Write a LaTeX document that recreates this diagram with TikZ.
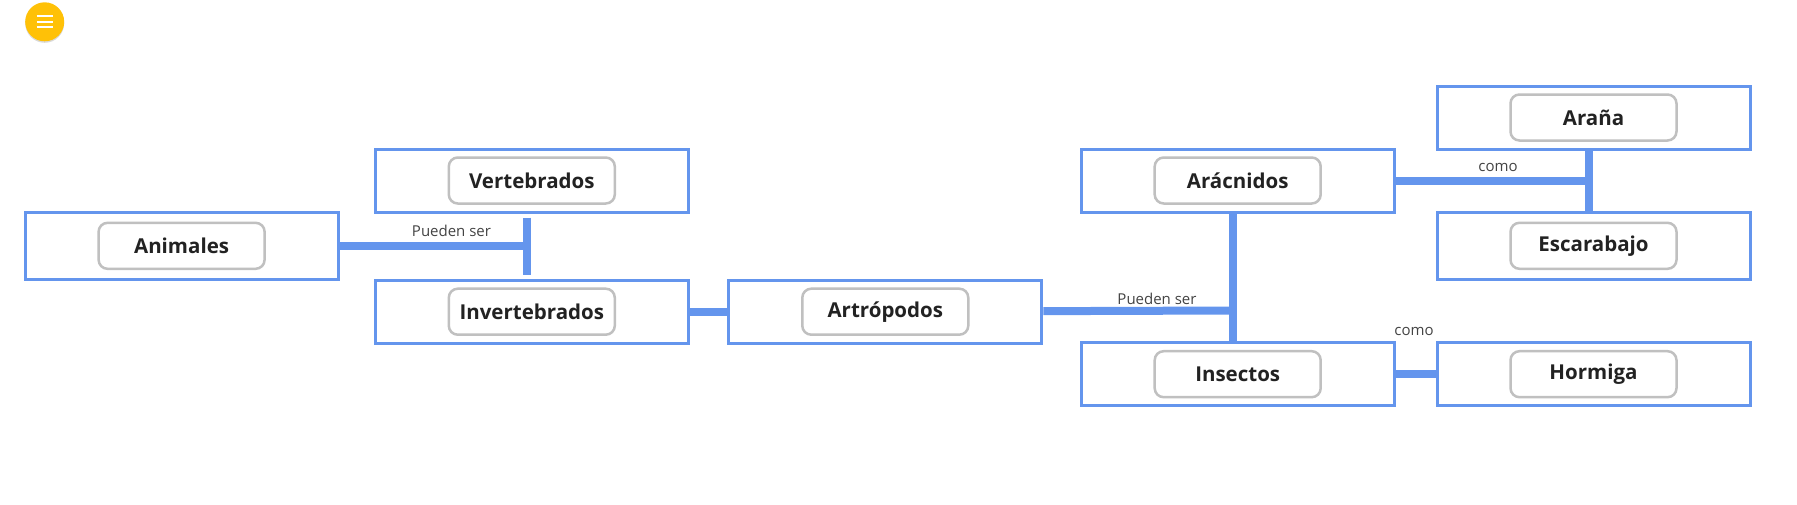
\documentclass[tikz,border=0pt]{standalone}
\usepackage{fontspec}
\setmainfont{Open Sans}
\usepackage{tikz}
\usetikzlibrary{shadows}

\definecolor{boxblue}{RGB}{100,149,237}
\definecolor{taggrey}{RGB}{192,192,192}
\definecolor{txtdark}{RGB}{34,34,34}
\definecolor{menuyellow}{RGB}{255,193,7}

\tikzset{
	concept/.style={shape=rectangle,draw=boxblue,line width=3pt,fill=white,minimum width=313pt,minimum height=63pt},
	tall/.style={minimum height=67pt},
	tag/.style={shape=rectangle,rounded corners=9pt,draw=taggrey,line width=2.5pt,fill=white,minimum width=166pt,minimum height=46pt,font=\bfseries\fontsize{20.5}{24}\selectfont,text=txtdark},
	link/.style={draw=boxblue,line width=8pt},
	linkword/.style={font=\fontsize{15}{17}\selectfont,text=txtdark!85}
}

\begin{document}
\begin{tikzpicture}[x=1pt,y=-1pt]

	\useasboundingbox (0,0) rectangle (1797,504);

	% menu button
	\node[shape=circle,fill=menuyellow,minimum size=39pt,drop shadow={opacity=0.3,shadow xshift=0pt,shadow yshift=-1.5pt}] (menu) at (44.7, 21.8) {};
	\foreach \dy in {-5.5,0,5.5}
		\draw[white,line width=2pt] ([xshift=-8pt,yshift=\dy pt]menu.center) -- ++(16,0);

	% concepts
	\node[concept,tall] (anim) at (181.6, 245.8)   {};
	\node[concept] (vert) at (531.8, 180.5)        {};
	\node[concept] (invert) at (531.8, 311.7)      {};
	\node[concept] (artro) at (885.3, 311.7)       {};
	\node[concept] (arac) at (1237.7, 180.5)       {};
	\node[concept] (insec) at (1237.7, 374.2)      {};
	\node[concept] (arana) at (1593.5, 117.5)      {};
	\node[concept,tall] (escar) at (1593.5, 245.8) {};
	\node[concept] (horm) at (1593.5, 374.2)       {};

	\node[tag] (animT) at (anim)     {Animales};
	\node[tag] (vertT) at (vert)     {Vertebrados};
	\node[tag] (invertT) at (invert) {Invertebrados};
	\node[tag] (artroT) at (artro)   {Artrópodos};
	\node[tag] (aracT) at (arac)     {Arácnidos};
	\node[tag] (insecT) at (insec)   {Insectos};
	\node[tag] (aranaT) at (arana)   {Araña};
	\node[tag] (escarT) at (escar)   {Escarabajo};
	\node[tag] (hormT) at (horm)     {Hormiga};

	% junctions
	\coordinate (j1) at (527.2, 245.8);
	\coordinate (j2) at (1233.1, 310.5);
	\coordinate (j3) at (1588.9, 180.5);

	\path[link] (anim) edge (j1);
	\path[link,shorten <=4pt,shorten >=4pt] ([xshift=-4.6pt]vert.south) edge ([xshift=-4.6pt]invert.north);
	\path[link] (invert) edge (artro);
	\path[link] (artro) edge (j2);
	\path[link] ([xshift=-4.6pt]arac.south) edge ([xshift=-4.6pt]insec.north);
	\path[link] (arac) edge (j3);
	\path[link] ([xshift=-4.6pt]arana.south) edge ([xshift=-4.6pt]escar.north);
	\path[link] (insec) edge (horm);

	% link words
	\node[linkword] (w1) at (451.5, 231)  {Pueden ser};
	\node[linkword] (w2) at (1157, 299)   {Pueden ser};
	\node[linkword] (w3) at (1498, 167)   {como};
	\node[linkword] (w4) at (1414, 331)   {como};

\end{tikzpicture}
\end{document}
